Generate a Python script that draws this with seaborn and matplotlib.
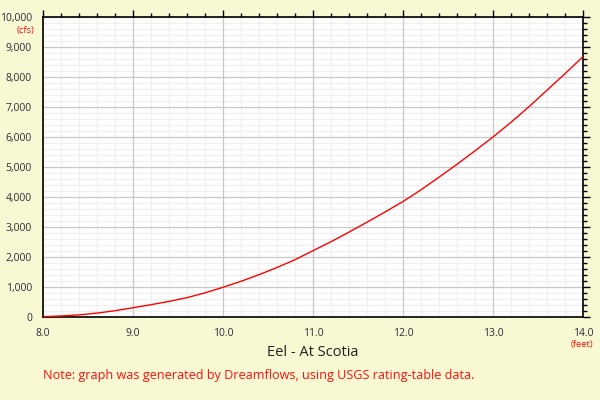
import numpy as np
import pandas as pd
import matplotlib
matplotlib.use("Agg")
import matplotlib.pyplot as plt
from matplotlib.ticker import MultipleLocator, FixedLocator, FuncFormatter
import seaborn as sns

# Rating curve (stage in feet, flow in cfs)
stage_ft = [8.0, 8.2, 8.4, 8.6, 8.8, 9.0, 9.2, 9.4, 9.6, 9.8,
            10.0, 10.2, 10.4, 10.6, 10.8, 11.0, 11.2, 11.4, 11.6, 11.8,
            12.0, 12.2, 12.4, 12.6, 12.8, 13.0, 13.2, 13.4, 13.6, 13.8, 14.0]
flow_cfs = [10, 35, 70, 130, 210, 310, 410, 520, 645, 805,
            990, 1190, 1410, 1650, 1910, 2210, 2510, 2830, 3160, 3500,
            3850, 4240, 4660, 5090, 5540, 6000, 6490, 7010, 7560, 8110, 8680]

title = "Eel - At Scotia"
note = "Note: graph was generated by Dreamflows, using USGS rating-table data."

BG = "#f8f8d2"
TXT = "#2b2b40"
RED = "#ff1010"

sns.set_style("white")
plt.rcParams["font.family"] = ["Open Sans", "DejaVu Sans"]

df = pd.DataFrame({"stage": stage_ft, "flow": flow_cfs})

fig = plt.figure(figsize=(6, 4), dpi=100, facecolor=BG)
ax = fig.add_axes([43 / 600, 83 / 400, 540 / 600, 300 / 400])
ax.set_facecolor("white")

sns.lineplot(data=df, x="stage", y="flow", color="red", linewidth=1.0, ax=ax, zorder=3)

ax.set_xlim(8.0, 14.0)
ax.set_ylim(0, 10000)
ax.xaxis.set_major_locator(MultipleLocator(1.0))
ax.yaxis.set_major_locator(MultipleLocator(1000))
xminor = [v for v in np.round(np.arange(8.0, 14.01, 0.2), 1) if abs(v - round(v)) > 1e-6]
yminor = [v for v in range(0, 10001, 200) if v % 1000 != 0]
ax.xaxis.set_minor_locator(FixedLocator(xminor))
ax.yaxis.set_minor_locator(FixedLocator(yminor))
ax.xaxis.set_major_formatter(FuncFormatter(lambda v, p: f"{v:.1f}"))
ax.yaxis.set_major_formatter(FuncFormatter(lambda v, p: f"{int(v):,}"))

# light minor grid underneath, darker major grid drawn on top of it
ax.grid(which="minor", color="#f0f0f0", linewidth=0.9)
ax.set_axisbelow(True)
for xv in ax.get_xticks():
    ax.axvline(xv, color="#c8c8c8", linewidth=0.9, zorder=1)
for yv in ax.get_yticks():
    ax.axhline(yv, color="#c8c8c8", linewidth=0.9, zorder=1)
ax.set_xlim(8.0, 14.0)
ax.set_ylim(0, 10000)

for s in ax.spines.values():
    s.set_visible(True)
    s.set_color("black")
    s.set_linewidth(1.2)

ax.tick_params(which="both", direction="out", top=True, right=True,
               labeltop=False, labelright=False, color="black", width=1.0)
ax.tick_params(which="major", length=5, labelsize=7.5, labelcolor=TXT, pad=3)
ax.tick_params(which="minor", length=3)

ax.set_xlabel("")
ax.set_ylabel("")

fig.text(25.5 / 600, 1 - 31 / 400, "(cfs)", color=RED, fontsize=6.8, ha="center", va="center")
fig.text(582 / 600, 1 - 344 / 400, "(feet)", color=RED, fontsize=6.8, ha="center", va="center")
fig.text(313 / 600, 1 - 352 / 400, title, color="#202020", fontsize=10.5, ha="center", va="center")
fig.text(43 / 600, 1 - 376 / 400, note, color=RED, fontsize=9.1, ha="left", va="center")

fig.savefig("out.png", dpi=100, facecolor=BG)
